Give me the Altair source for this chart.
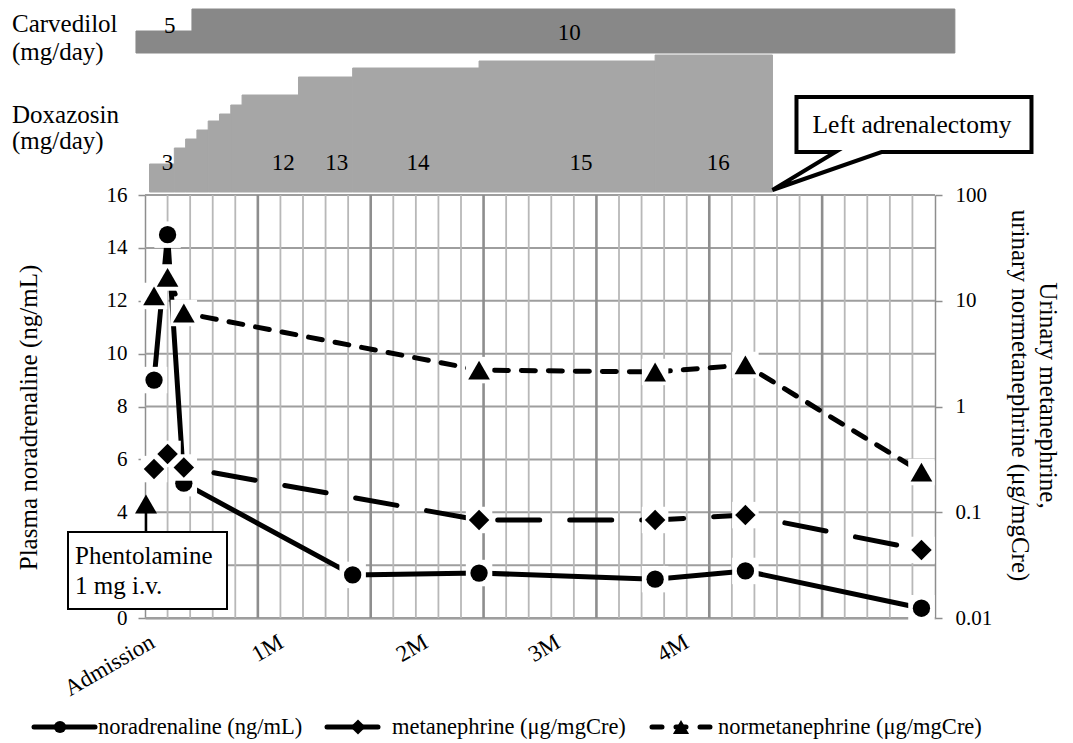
import altair as alt
import pandas as pd

FONT = "'Liberation Serif', 'Times New Roman', Times, 'DejaVu Serif', serif"

# ---------------- data (x = days after admission) ----------------
nor_day = [2, 5, 8.6, 46, 74, 113, 133, 172]
noradrenaline = [9.0, 14.5, 5.1, 1.63, 1.70, 1.47, 1.78, 0.37]          # ng/mL

uri_day = [2, 5, 8.6, 74, 113, 133, 172]
metanephrine = [0.256, 0.356, 0.265, 0.0845, 0.0845, 0.094, 0.044]      # ug/mgCre
normetanephrine = [11.1, 16.6, 7.66, 2.21, 2.12, 2.47, 0.24]            # ug/mgCre

dox_start = [1, 6.5, 9, 11.5, 14, 16.5, 19, 21.5, 34, 46, 74, 113]
dox_end = [6.5, 9, 11.5, 14, 16.5, 19, 21.5, 34, 46, 74, 113, 139]
dox_level = [28, 44, 53, 62, 71, 78, 87, 97, 115, 124, 131, 137]        # relative step level
dox_label = ["3", "12", "13", "14", "15", "16"]
dox_label_day = [5, 30.6, 42.5, 60.5, 96.6, 127]

carv_start = [-2, 10.4]
carv_end = [10.4, 179.4]
carv_dose = [5, 10]
carv_label = ["5", "10"]
carv_label_day = [5.5, 94]

month_label = ["Admission", "1M", "2M", "3M", "4M"]
month_day = [0.5, 29, 61, 90.3, 118.8]

adrenalectomy_day = 139

legend_names = ["noradrenaline (ng/mL)", "metanephrine (\u03bcg/mgCre)", "normetanephrine (\u03bcg/mgCre)"]

# gridline positions: minor every 5 days, major every 25 days; horizontal every 2 ng/mL
minor_grid = [d for d in range(5, 175, 5) if d % 25 != 0]
major_grid = [25, 50, 75, 100, 125, 150]
h_grid = list(range(0, 17, 2))
left_ticks = [0, 4, 6, 8, 10, 12, 14, 16]   # "2" is hidden under the annotation box

# ---------------- frames ----------------
df_nor = pd.DataFrame({"day": nor_day, "v": noradrenaline})
df_meta = pd.DataFrame({"day": uri_day, "v": metanephrine})
df_normeta = pd.DataFrame({"day": uri_day, "v": normetanephrine})
df_dox = pd.DataFrame({"start": dox_start, "end": dox_end, "level": dox_level})
df_doxlab = pd.DataFrame({"day": dox_label_day, "label": dox_label})
df_carv = pd.DataFrame({"start": carv_start, "end": carv_end, "dose": carv_dose})
df_month = pd.DataFrame({"day": month_day, "label": month_label})
one = pd.DataFrame({"k": [0]})

# ---------------- scales / axes ----------------
xscale = alt.Scale(domain=[0, 175], nice=False, zero=False)
xaxis = alt.Axis(labels=False, ticks=False, title=None, grid=False,
                 domainColor="#8e8e8e", domainWidth=2)
X = alt.X("day:Q", scale=xscale, axis=xaxis)

left_scale = alt.Scale(domain=[0, 16], nice=False, zero=True)
log_scale = alt.Scale(type="log", domain=[0.01, 100], nice=False)

yleft = alt.Y(
    "v:Q", scale=left_scale,
    axis=alt.Axis(
        values=left_ticks, grid=False,
        tickSize=7, tickColor="#8e8e8e", tickWidth=1.5, domainColor="#8e8e8e", domainWidth=1.5,
        labelFont=FONT, labelFontSize=21, labelPadding=11, labelColor="black",
        title="Plasma noradrenaline (ng/mL)", titleFont=FONT, titleFontSize=25,
        titleFontWeight="normal", titleColor="black", titleX=-117, titleY=222,
        titleAngle=270, titleAlign="center", titleBaseline="middle",
    ),
)
yright = alt.Y(
    "v:Q", scale=log_scale,
    axis=alt.Axis(
        orient="right", values=[0.01, 0.1, 1, 10, 100], format="~g", grid=False,
        tickSize=7, tickColor="#8e8e8e", tickWidth=1.5, domainColor="#8e8e8e", domainWidth=1.5,
        labelFont=FONT, labelFontSize=21, labelPadding=13, labelColor="black",
        title=["Urinary metanephrine,", "urinary normetanephrine (\u03bcg/mgCre)"],
        titleFont=FONT, titleFontSize=25, titleFontWeight="normal", titleColor="black",
        titleX=112, titleY=200, titleAngle=90, titleAlign="center", titleBaseline="middle",
        titleLineHeight=28,
    ),
)
ylog_noaxis = alt.Y("v:Q", scale=log_scale, axis=None)
yleft_noaxis = alt.Y("v:Q", scale=left_scale, axis=None)

# ---------------- grid ----------------
grid_h = alt.Chart(pd.DataFrame({"v": h_grid})).mark_rule(color="#9e9e9e", strokeWidth=2).encode(
    y=yleft_noaxis, x=alt.value(0), x2=alt.value(790))
grid_minor = alt.Chart(pd.DataFrame({"day": minor_grid})).mark_rule(color="#b8b8b8", strokeWidth=1.8).encode(
    x=X, y=alt.value(0), y2=alt.value(423))
grid_major = alt.Chart(pd.DataFrame({"day": major_grid})).mark_rule(color="#8e8e8e", strokeWidth=2.6).encode(
    x=X, y=alt.value(0), y2=alt.value(423))

# ---------------- drug strips ----------------
carv = alt.Chart(df_carv).mark_rect(color="#888888", stroke="#888888", strokeWidth=1).encode(
    x=alt.X("start:Q", scale=xscale, axis=xaxis), x2="end:Q",
    y=alt.Y("dose:Q", scale=alt.Scale(domain=[0, 10], range=[-142, -186], nice=False, zero=True), axis=None),
    y2=alt.datum(0),
)
dox = alt.Chart(df_dox).mark_rect(color="#a6a6a6", stroke="#a6a6a6", strokeWidth=1).encode(
    x=alt.X("start:Q", scale=xscale, axis=xaxis), x2="end:Q",
    y=alt.Y("level:Q", scale=alt.Scale(domain=[0, 137], range=[-3, -140], nice=False, zero=True), axis=None),
    y2=alt.datum(0),
)
dox_text = alt.Chart(df_doxlab).mark_text(font=FONT, fontSize=23, color="black", baseline="middle").encode(
    x=X, y=alt.value(-32), text="label:N")
carv_text5 = alt.Chart(pd.DataFrame({"day": [carv_label_day[0]], "label": [carv_label[0]]})).mark_text(
    font=FONT, fontSize=23, color="black", baseline="middle").encode(x=X, y=alt.value(-169), text="label:N")
carv_text10 = alt.Chart(pd.DataFrame({"day": [carv_label_day[1]], "label": [carv_label[1]]})).mark_text(
    font=FONT, fontSize=23, color="black", baseline="middle").encode(x=X, y=alt.value(-162), text="label:N")

def side_text(txt, y):
    return alt.Chart(one).mark_text(font=FONT, fontSize=25, color="black", align="left",
                                    baseline="alphabetic", text=txt).encode(x=alt.value(-133), y=alt.value(y))

drug_names = [side_text("Carvedilol", -163), side_text("(mg/day)", -135),
              side_text("Doxazosin", -72), side_text("(mg/day)", -46)]

# ---------------- series ----------------
def series(df, y_axis, y_plain, shape, size, dash):
    line_kw = dict(color="black", strokeWidth=5, strokeJoin="round", strokeCap="round")
    if dash:
        line_kw["strokeDash"] = dash
    line = alt.Chart(df).mark_line(**line_kw).encode(x=X, y=y_axis)
    halo = alt.Chart(df).mark_square(color="white", size=700, opacity=1).encode(x=X, y=y_plain)
    pts = alt.Chart(df).mark_point(shape=shape, size=size, filled=True, color="black", opacity=1).encode(x=X, y=y_plain)
    return [line, halo, pts]

nor_layers = series(df_nor, yleft, yleft_noaxis, "circle", 300, None)
meta_layers = series(df_meta, yright, ylog_noaxis, "diamond", 420, [42, 30])
normeta_layers = series(df_normeta, ylog_noaxis, ylog_noaxis, "triangle-up", 470, [14, 13])

month_text = alt.Chart(df_month).mark_text(font=FONT, fontSize=23, color="black", angle=330,
                                           align="right", baseline="top").encode(
    x=X, y=alt.value(436), text="label:N")

# ---------------- annotations ----------------
CALLOUT = "M0,0 L63,-38 L24,-38 L24,-93 L259,-93 L259,-38 L109,-38 Z"
callout = alt.Chart(pd.DataFrame({"day": [adrenalectomy_day]})).mark_point(
    shape=CALLOUT, size=4, filled=True, fill="white", stroke="black", strokeWidth=4,
    opacity=1, strokeJoin="miter").encode(x=X, y=alt.value(-5))
callout_text = alt.Chart(one).mark_text(font=FONT, fontSize=25.5, color="black", align="center",
                                        baseline="middle", text="Left adrenalectomy").encode(
    x=alt.value(767), y=alt.value(-70))

ph_box = alt.Chart(one).mark_rect(fill="white", stroke="black", strokeWidth=2).encode(
    x=alt.value(-77), x2=alt.value(82), y=alt.value(337), y2=alt.value(414))
ph_shaft = alt.Chart(one).mark_rule(color="black", strokeWidth=2.5).encode(
    x=alt.value(1), y=alt.value(318), y2=alt.value(337))
ph_head = alt.Chart(one).mark_point(shape="triangle-up", size=484, filled=True, color="black", opacity=1).encode(
    x=alt.value(1), y=alt.value(309))
ph_t1 = alt.Chart(one).mark_text(font=FONT, fontSize=25, color="black", align="left",
                                 baseline="alphabetic", text="Phentolamine").encode(x=alt.value(-70), y=alt.value(369))
ph_t2 = alt.Chart(one).mark_text(font=FONT, fontSize=25, color="black", align="left",
                                 baseline="alphabetic", text="1 mg i.v.").encode(x=alt.value(-70), y=alt.value(399))

# ---------------- legend ----------------
LY = 532
def leg_rule(x1, x2, dash=None):
    kw = dict(color="black", strokeWidth=5, strokeCap="round")
    if dash:
        kw["strokeDash"] = dash
    return alt.Chart(one).mark_rule(**kw).encode(x=alt.value(x1), x2=alt.value(x2), y=alt.value(LY))

def leg_pt(x, shape, size):
    return alt.Chart(one).mark_point(shape=shape, size=size, filled=True, color="black", opacity=1).encode(
        x=alt.value(x), y=alt.value(LY))

def leg_text(x, txt):
    return alt.Chart(one).mark_text(font=FONT, fontSize=22.5, color="black", align="left",
                                    baseline="middle", text=txt).encode(x=alt.value(x), y=alt.value(LY))

legend = [
    leg_rule(-111, -50), leg_pt(-85, "circle", 150), leg_text(-47, legend_names[0]),
    leg_rule(182, 233), leg_pt(213, "diamond", 230), leg_text(247, legend_names[1]),
    leg_rule(507, 567, [10, 14]), leg_pt(536, "triangle-up", 260), leg_text(573, legend_names[2]),
]

layers = ([grid_h, grid_minor, grid_major, carv, dox, dox_text, carv_text5, carv_text10] + drug_names
          + nor_layers + meta_layers + normeta_layers
          + [month_text, callout, callout_text, ph_box, ph_shaft, ph_head, ph_t1, ph_t2] + legend)

chart = alt.layer(*layers).resolve_scale(y="independent").properties(
    width=790, height=423,
    padding={"left": 137, "top": 187, "right": 130, "bottom": 125},
    autosize=alt.AutoSizeParams(type="none"),
    background="white",
).configure_view(strokeWidth=0)

chart.save("out.html", embed_options={"renderer": "svg", "actions": False})
